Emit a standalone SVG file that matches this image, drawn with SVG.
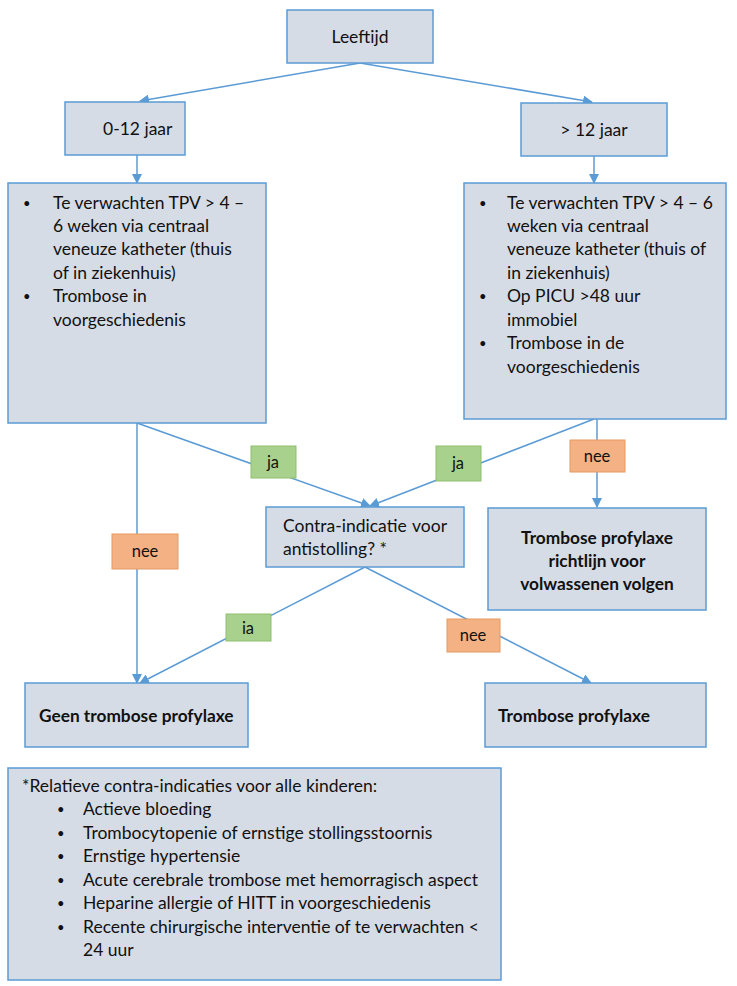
<svg xmlns="http://www.w3.org/2000/svg" width="737" height="986" viewBox="0 0 737 986">
<style>
.box{fill:#D6DCE5;stroke:#5B9BD5;stroke-width:1.5}
.ja{fill:#A9D18E;stroke:#8DBF6B;stroke-width:1}
.nee{fill:#F4B183;stroke:#E59A62;stroke-width:1}
text{font-family:Lato,"Liberation Sans",sans-serif;font-size:17.5px;fill:#111}
.c{text-anchor:middle}
.b{font-weight:bold;font-size:17.3px}
.lbl{font-size:16.5px}
.bul{font-size:13px}
.conn{stroke:#5B9BD5;stroke-width:1.5;fill:none}
</style>
<defs>
<marker id="ah" markerWidth="10" markerHeight="10" refX="9" refY="5" orient="auto" markerUnits="userSpaceOnUse">
<path d="M0,0 L10,5 L0,10 z" fill="#5B9BD5"/>
</marker>
</defs>
<rect width="737" height="986" fill="#fff"/>
<g id="connectors">
<line class="conn" x1="360" y1="63" x2="140" y2="101" marker-end="url(#ah)"/>
<line class="conn" x1="360" y1="63" x2="592" y2="102" marker-end="url(#ah)"/>
<line class="conn" x1="137" y1="155" x2="137" y2="183" marker-end="url(#ah)"/>
<line class="conn" x1="594" y1="156" x2="594" y2="183" marker-end="url(#ah)"/>
<line class="conn" x1="137" y1="423" x2="137" y2="683" marker-end="url(#ah)"/>
<line class="conn" x1="137" y1="423" x2="370" y2="506" marker-end="url(#ah)"/>
<line class="conn" x1="594" y1="419" x2="370" y2="506" marker-end="url(#ah)"/>
<line class="conn" x1="597" y1="419" x2="597" y2="507" marker-end="url(#ah)"/>
<line class="conn" x1="365" y1="567" x2="140" y2="683" marker-end="url(#ah)"/>
<line class="conn" x1="365" y1="567" x2="591" y2="683" marker-end="url(#ah)"/>
</g>
<g id="leeftijd">
<rect class="box" x="287" y="10" width="146" height="53"/>
<text class="c" x="360" y="43">Leeftijd</text>
</g>
<g id="age-0-12">
<rect class="box" x="65" y="102" width="120" height="53"/>
<text x="103" y="135">0-12 jaar</text>
</g>
<g id="age-12plus">
<rect class="box" x="521" y="103" width="146" height="53"/>
<text class="c" x="594" y="136">&gt; 12 jaar</text>
</g>
<g id="criteria-left">
<rect class="box" x="8" y="183" width="258" height="240"/>
<text class="bul" x="23" y="208">•</text>
<text x="53" y="209">Te verwachten TPV &gt; 4 –</text>
<text x="53" y="232">6 weken via centraal</text>
<text x="53" y="255">veneuze katheter (thuis</text>
<text x="53" y="279">of in ziekenhuis)</text>
<text class="bul" x="23" y="301">•</text>
<text x="53" y="302">Trombose in</text>
<text x="53" y="326">voorgeschiedenis</text>
</g>
<g id="criteria-right">
<rect class="box" x="464" y="183" width="262" height="236"/>
<text class="bul" x="479" y="208">•</text>
<text x="507" y="209">Te verwachten TPV &gt; 4 – 6</text>
<text x="507" y="232">weken via centraal</text>
<text x="507" y="255">veneuze katheter (thuis of</text>
<text x="507" y="279">in ziekenhuis)</text>
<text class="bul" x="479" y="301">•</text>
<text x="507" y="302">Op PICU &gt;48 uur</text>
<text x="507" y="326">immobiel</text>
<text class="bul" x="479" y="348">•</text>
<text x="507" y="349">Trombose in de</text>
<text x="507" y="373">voorgeschiedenis</text>
</g>
<g id="label-ja-left">
<rect class="ja" x="251" y="446" width="45" height="32"/>
<text class="c lbl" x="273" y="468">ja</text>
</g>
<g id="label-ja-right">
<rect class="ja" x="436" y="446" width="45" height="35"/>
<text class="c lbl" x="458" y="469">ja</text>
</g>
<g id="label-nee-right">
<rect class="nee" x="570" y="440" width="55" height="32"/>
<text class="c lbl" x="597" y="462">nee</text>
</g>
<g id="label-nee-left">
<rect class="nee" x="112" y="534" width="66" height="35"/>
<text class="c lbl" x="145" y="557">nee</text>
</g>
<g id="contra">
<rect class="box" x="266" y="507" width="198" height="60"/>
<text x="283" y="532">Contra-indicatie</text>
<text x="447" y="532" text-anchor="end">voor</text>
<text x="283" y="555">antistolling? *</text>
</g>
<g id="richtlijn">
<rect class="box" x="488" y="508" width="218" height="102"/>
<text class="c b" x="597" y="544">Trombose profylaxe</text>
<text class="c b" x="597" y="567">richtlijn voor</text>
<text class="c b" x="597" y="590">volwassenen volgen</text>
</g>
<g id="label-ia">
<rect class="ja" x="226" y="614" width="45" height="27"/>
<text class="c lbl" x="248" y="634">ia</text>
</g>
<g id="label-nee-bottom">
<rect class="nee" x="447" y="619" width="53" height="33"/>
<text class="c lbl" x="473" y="641">nee</text>
</g>
<g id="geen">
<rect class="box" x="25" y="683" width="223" height="64"/>
<text class="b" x="39" y="722">Geen trombose profylaxe</text>
</g>
<g id="profylaxe">
<rect class="box" x="485" y="683" width="221" height="64"/>
<text class="b" x="498" y="722">Trombose profylaxe</text>
</g>
<g id="legend">
<rect class="box" x="8" y="768" width="493" height="212"/>
<text x="22" y="792">*Relatieve contra-indicaties voor alle kinderen:</text>
<text class="bul" x="57" y="814">•</text><text x="83" y="815">Actieve bloeding</text>
<text class="bul" x="57" y="838">•</text><text x="83" y="839">Trombocytopenie of ernstige stollingsstoornis</text>
<text class="bul" x="57" y="861">•</text><text x="83" y="862">Ernstige hypertensie</text>
<text class="bul" x="57" y="885">•</text><text x="83" y="886">Acute cerebrale trombose met hemorragisch aspect</text>
<text class="bul" x="57" y="908">•</text><text x="83" y="909">Heparine allergie of HITT in voorgeschiedenis</text>
<text class="bul" x="57" y="932">•</text><text x="83" y="933">Recente chirurgische interventie of te verwachten &lt;</text>
<text x="83" y="956">24 uur</text>
</g>
</svg>
